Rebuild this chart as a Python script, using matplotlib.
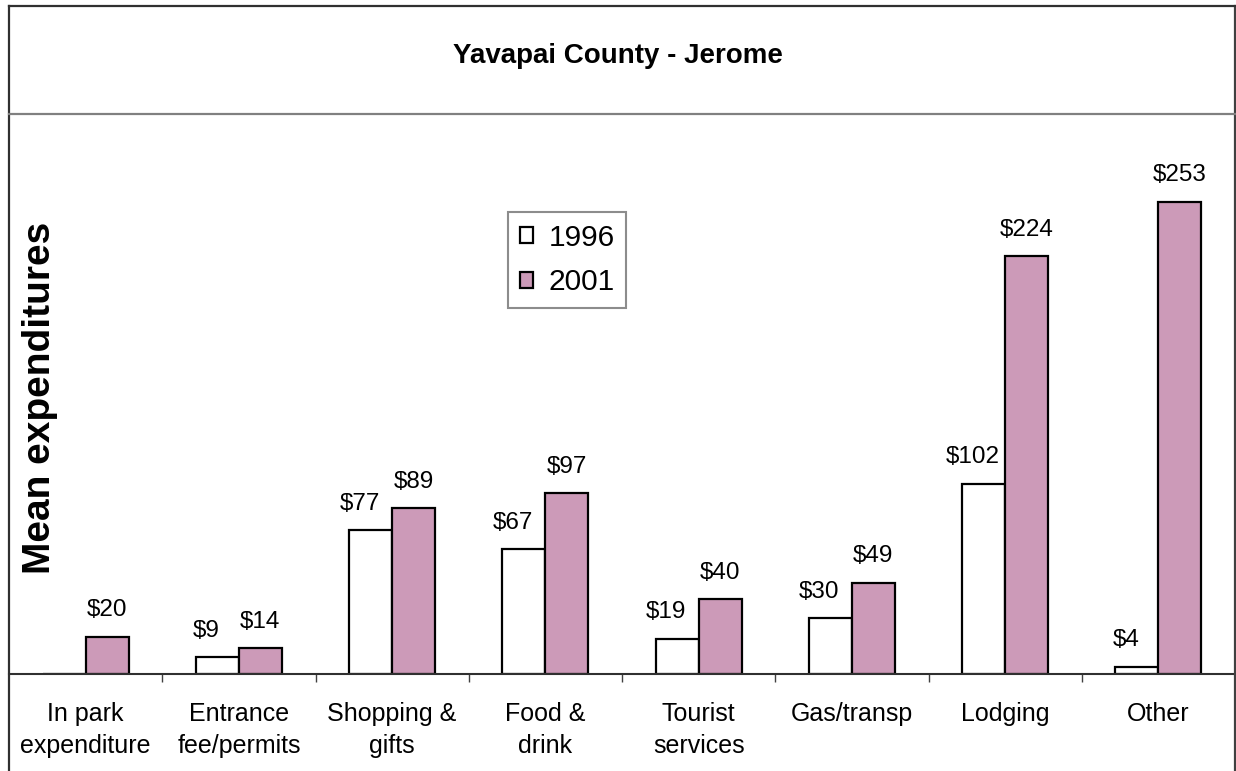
import numpy as np
import matplotlib
matplotlib.use("Agg")
import matplotlib.pyplot as plt
from matplotlib.lines import Line2D

plt.rcParams['font.family'] = ['Liberation Sans', 'DejaVu Sans']

categories = ['In park\nexpenditure', 'Entrance\nfee/permits', 'Shopping &\ngifts',
              'Food &\ndrink', 'Tourist\nservices', 'Gas/transp', 'Lodging', 'Other']
vals_1996 = [0, 9, 77, 67, 19, 30, 102, 4]
vals_2001 = [20, 14, 89, 97, 40, 49, 224, 253]
years = ['1996', '2001']

W, H = 1236, 771
fig = plt.figure(figsize=(W / 100, H / 100), dpi=100)

# plot area in pixel coords
x0, x1, ytop, ybase = 9, 1235, 114, 674
ax = fig.add_axes([x0 / W, (H - ybase) / H, (x1 - x0) / W, (ybase - ytop) / H])

x = np.arange(len(categories))
w = 0.28
pink = '#CC9AB8'
ax.bar(x - w / 2, vals_1996, w, color='white', edgecolor='black', linewidth=1.6, label=years[0])
ax.bar(x + w / 2, vals_2001, w, color=pink, edgecolor='black', linewidth=1.6, label=years[1])

for xi, v in zip(x, vals_1996):
    if v > 0:
        ax.annotate(f'${v}', (xi - w / 2, v), xytext=(-8, 11), textcoords='offset points',
                    ha='center', va='bottom', fontsize=17.5)
for xi, v in zip(x, vals_2001):
    ax.annotate(f'${v}', (xi + w / 2, v), xytext=(0, 11), textcoords='offset points',
                ha='center', va='bottom', fontsize=17.5)

ax.set_xlim(-0.5, len(categories) - 0.5)
ax.set_ylim(0, 300)
ax.set_yticks([])
ax.set_xticks(x)
ax.set_xticklabels(categories, fontsize=18, linespacing=1.45)
ax.tick_params(axis='x', which='major', length=0, pad=20)
ax.set_xticks(np.arange(0.5, len(categories) - 1, 1), minor=True)
ax.tick_params(axis='x', which='minor', length=6, width=1, color='#404040', direction='out')

for s in ['top', 'left', 'right']:
    ax.spines[s].set_visible(False)
ax.spines['bottom'].set_color('#303030')
ax.spines['bottom'].set_linewidth(1.5)

ax.text(0.0253, 0.493, 'Mean expenditures', transform=ax.transAxes, rotation=90,
        ha='center', va='center', fontsize=28, fontweight='bold')

leg = ax.legend(loc='upper left', bbox_to_anchor=(0.407, 0.825), borderaxespad=0,
                fontsize=21.5, fancybox=False, handlelength=0.45, handleheight=0.45,
                handletextpad=0.5, borderpad=0.4, labelspacing=0.55, edgecolor='#707070')
leg.get_frame().set_linewidth(1.5)

fig.text(0.5, 1 - 56 / H, 'Yavapai County - Jerome', ha='center', va='center',
         fontsize=20, fontweight='bold')

# outer frame and title divider
def px_line(xs, ys, color, lw):
    fig.add_artist(Line2D([v / W for v in xs], [1 - v / H for v in ys],
                          color=color, linewidth=lw, transform=fig.transFigure))

px_line([x0, x0], [6, H], '#303030', 1.6)
px_line([x1, x1], [6, H], '#404040', 1.6)
px_line([x0, x1], [6, 6], '#303030', 1.6)
px_line([x0, x1], [ytop, ytop], '#808080', 1.6)

fig.savefig('out.png', dpi=100)
